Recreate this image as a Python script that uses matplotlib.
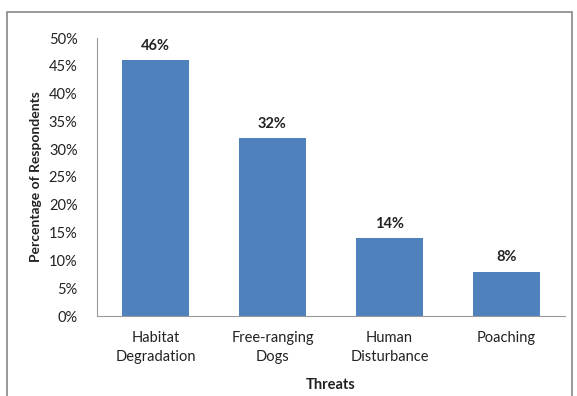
import matplotlib
matplotlib.use("Agg")
import matplotlib.pyplot as plt
from matplotlib.patches import Rectangle

categories = ["Habitat\nDegradation", "Free-ranging\nDogs", "Human\nDisturbance", "Poaching"]
values = [46, 32, 14, 8]
yticks = [0, 5, 10, 15, 20, 25, 30, 35, 40, 45, 50]

plt.rcParams['font.family'] = ['Lato', 'DejaVu Sans']

fig = plt.figure(figsize=(5.77, 3.96), dpi=100)
ax = fig.add_axes([97/577, 1-316/396, 468/577, 278/396])

x = list(range(len(categories)))
bars = ax.bar(x, values, width=0.57, color="#4F81BD")
for xi, v in zip(x, values):
    ax.text(xi, v + 1.3, f"{v}%", ha="center", va="bottom", fontsize=10.5, fontweight="bold", color="#222222")

ax.set_xlim(-0.5, 3.5)
ax.set_ylim(0, 50)
ax.set_yticks(yticks)
ax.set_yticklabels([f"{t}%" for t in yticks], fontsize=10.5, color="#222222")
ax.set_xticks(x)
ax.set_xticklabels(categories, fontsize=10.5, color="#222222", linespacing=1.45)
ax.tick_params(axis='both', length=0)
ax.tick_params(axis='y', pad=14)
ax.tick_params(axis='x', pad=11)
for s in ["top", "right"]:
    ax.spines[s].set_visible(False)
ax.spines["left"].set_color("#999999")
ax.spines["bottom"].set_color("#999999")
ax.set_xlabel("Threats", fontsize=10.5, fontweight="bold", color="#222222", labelpad=10)
ax.set_ylabel("Percentage of Respondents", fontsize=10, fontweight="bold", color="#222222", labelpad=5)

fig.patches.append(Rectangle((7/577, -0.05), 565/577, 1-12/396+0.05, transform=fig.transFigure,
                             fill=False, edgecolor="#888888", linewidth=1.2))

fig.savefig("out.png", dpi=100)
